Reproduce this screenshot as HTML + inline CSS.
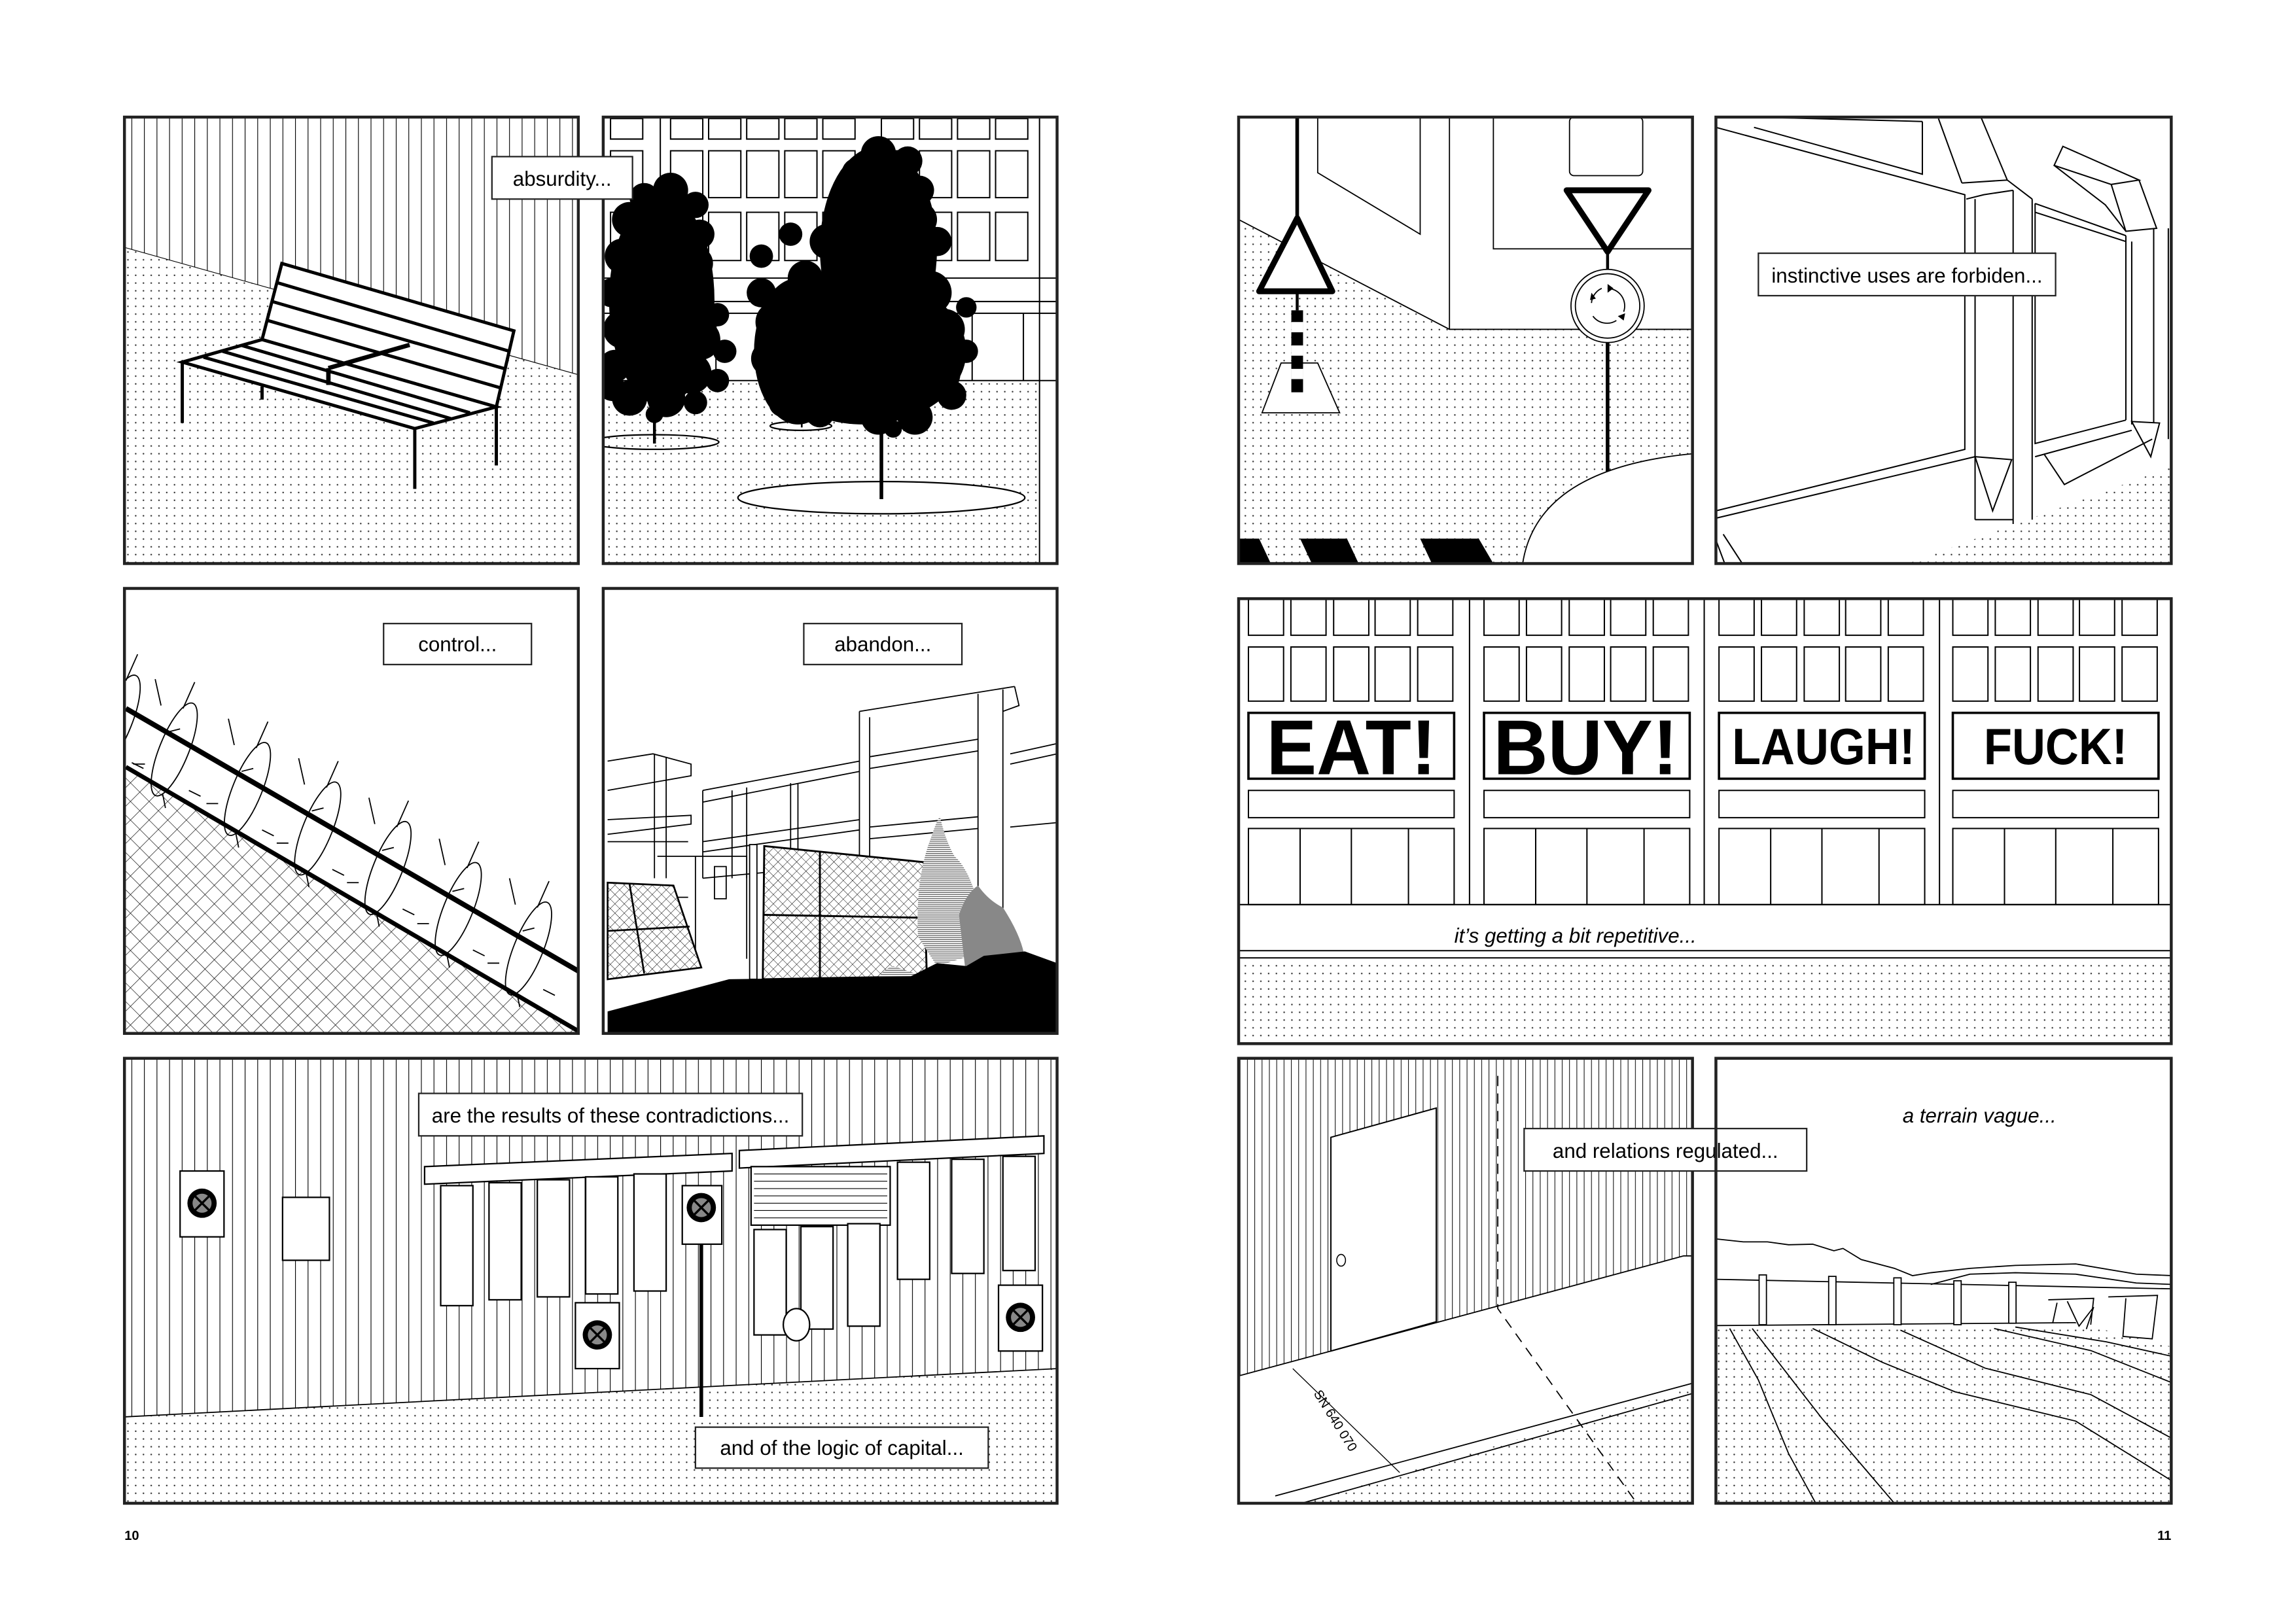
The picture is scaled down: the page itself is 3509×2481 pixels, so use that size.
<!DOCTYPE html>
<html><head><meta charset="utf-8"><style>
html,body{margin:0;padding:0;background:#fff;}
svg{display:block;}
text{font-family:"Liberation Sans",sans-serif;}
</style></head><body>
<svg width="3509" height="2481" viewBox="0 0 1568.2 1108.8" preserveAspectRatio="none" xmlns="http://www.w3.org/2000/svg">
<defs>
<pattern id="dots" width="5.3" height="5.3" patternUnits="userSpaceOnUse"><circle cx="2.6" cy="2.6" r="0.55" fill="#333"/></pattern>
<pattern id="str" width="8.6" height="10" patternUnits="userSpaceOnUse"><line x1="4" y1="0" x2="4" y2="10" stroke="#000" stroke-width="0.5"/></pattern>
<pattern id="str2" width="5" height="10" patternUnits="userSpaceOnUse"><line x1="2" y1="0" x2="2" y2="10" stroke="#000" stroke-width="0.45"/></pattern>
<pattern id="mesh" width="9" height="9" patternUnits="userSpaceOnUse" patternTransform="rotate(45)"><path d="M0 0H9M0 0V9" stroke="#000" stroke-width="0.6" fill="none"/></pattern>
<pattern id="mesh2" width="4.5" height="4.5" patternUnits="userSpaceOnUse" patternTransform="rotate(45)"><path d="M0 0H4.5M0 0V4.5" stroke="#000" stroke-width="0.45" fill="none"/></pattern>
<pattern id="grayl" width="3" height="1.4" patternUnits="userSpaceOnUse"><rect width="3" height="1.4" fill="#fff"/><line x1="0" y1="0.7" x2="3" y2="0.7" stroke="#666" stroke-width="0.6"/></pattern>
<clipPath id="c1"><rect x="85" y="80" width="310" height="305"/></clipPath>
<clipPath id="c2"><rect x="412" y="80" width="310" height="305"/></clipPath>
<clipPath id="c3"><rect x="85" y="402" width="310" height="304"/></clipPath>
<clipPath id="c4"><rect x="412" y="402" width="310" height="304"/></clipPath>
<clipPath id="c5"><rect x="85" y="723" width="637" height="304"/></clipPath>
<clipPath id="c6"><rect x="846" y="80" width="310" height="305"/></clipPath>
<clipPath id="c7"><rect x="1172" y="80" width="311" height="305"/></clipPath>
<clipPath id="c8"><rect x="846" y="409" width="637" height="304"/></clipPath>
<clipPath id="c9"><rect x="846" y="723" width="310" height="304"/></clipPath>
<clipPath id="c10"><rect x="1172" y="723" width="311" height="304"/></clipPath>
</defs>
<rect width="1568.2" height="1108.8" fill="#fff"/>

<!-- P1 bench -->
<g clip-path="url(#c1)">
<rect x="85" y="80" width="310" height="305" fill="url(#str)"/>
<polygon points="85,169 395,256 395,385 85,385" fill="#fff"/>
<polygon points="85,169 395,256 395,385 85,385" fill="url(#dots)" stroke="#000" stroke-width="0.5"/>
<g stroke="#000" stroke-width="2.2" fill="none">
<polygon points="192.5,180 351,226 339,278 179,232" fill="#fff"/>
<polygon points="179,232 339,278 283.3,292.8 124.5,247.4" fill="#fff"/>
<line x1="189" y1="193" x2="348" y2="240"/><line x1="186" y1="206" x2="345" y2="252"/><line x1="183" y1="219" x2="342" y2="265"/>
<line x1="165" y1="236" x2="321" y2="282"/><line x1="152" y1="240" x2="308" y2="286"/><line x1="139" y1="244" x2="296" y2="289"/>
<line x1="124.5" y1="247.4" x2="124.5" y2="289"/><line x1="283.3" y1="292.8" x2="283.3" y2="334"/><line x1="339" y1="278" x2="339" y2="318"/><line x1="179" y1="264" x2="179" y2="273"/>
<line x1="224.3" y1="251.5" x2="279.8" y2="235.6" stroke-width="3"/><line x1="224.3" y1="251.5" x2="224.3" y2="263" stroke-width="3"/>
</g></g>
<rect x="85" y="80" width="310" height="305" fill="none" stroke="#222" stroke-width="2"/>

<!-- P2 trees -->
<g clip-path="url(#c2)">
<g stroke="#000" stroke-width="0.9" fill="none">
<g id="wrow">
<rect x="417" y="0" width="22" height="1"/><rect x="458" y="0" width="22" height="1"/><rect x="484" y="0" width="22" height="1"/><rect x="510" y="0" width="22" height="1"/><rect x="536" y="0" width="22" height="1"/><rect x="562" y="0" width="22" height="1"/><rect x="602" y="0" width="22" height="1"/><rect x="628" y="0" width="22" height="1"/><rect x="654" y="0" width="22" height="1"/><rect x="680" y="0" width="22" height="1"/>
</g>
</g>
<g stroke="#000" stroke-width="0.9" fill="none">
<path d="M417 81h22v14h-22z M458 81h22v14h-22z M484 81h22v14h-22z M510 81h22v14h-22z M536 81h22v14h-22z M562 81h22v14h-22z M602 81h22v14h-22z M628 81h22v14h-22z M654 81h22v14h-22z M680 81h22v14h-22z"/>
<path d="M417 103h22v32h-22z M458 103h22v32h-22z M484 103h22v32h-22z M510 103h22v32h-22z M536 103h22v32h-22z M562 103h22v32h-22z M602 103h22v32h-22z M628 103h22v32h-22z M654 103h22v32h-22z M680 103h22v32h-22z"/>
<path d="M417 145h22v33h-22z M458 145h22v33h-22z M484 145h22v33h-22z M510 145h22v33h-22z M536 145h22v33h-22z M562 145h22v33h-22z M602 145h22v33h-22z M628 145h22v33h-22z M654 145h22v33h-22z M680 145h22v33h-22z"/>
<line x1="412" y1="190" x2="722" y2="190"/><line x1="412" y1="206" x2="722" y2="206"/><line x1="412" y1="214" x2="722" y2="214"/>
<line x1="489" y1="214" x2="489" y2="260"/><line x1="520" y1="214" x2="520" y2="260"/><line x1="664" y1="214" x2="664" y2="260"/><line x1="699" y1="214" x2="699" y2="260"/>
<line x1="710" y1="80" x2="710" y2="385"/><line x1="451" y1="80" x2="451" y2="190"/>
<line x1="412" y1="260" x2="722" y2="260"/>
</g>
<rect x="412" y="260" width="298" height="125" fill="url(#dots)"/>
<g fill="#000">
<ellipse cx="452" cy="205" rx="36" ry="72"/>
<ellipse cx="600" cy="170" rx="40" ry="70"/>
<ellipse cx="590" cy="240" rx="70" ry="50"/>
<ellipse cx="545" cy="240" rx="30" ry="50"/>
<circle cx="440" cy="135" r="10"/><circle cx="458" cy="130" r="12"/><circle cx="475" cy="140" r="9"/><circle cx="430" cy="150" r="12"/><circle cx="455" cy="150" r="15"/><circle cx="478" cy="160" r="10"/><circle cx="425" cy="175" r="12"/><circle cx="450" cy="175" r="16"/><circle cx="475" cy="180" r="12"/><circle cx="418" cy="200" r="10"/><circle cx="445" cy="200" r="16"/><circle cx="472" cy="205" r="14"/><circle cx="490" cy="215" r="8"/><circle cx="425" cy="225" r="13"/><circle cx="450" cy="225" r="16"/><circle cx="478" cy="232" r="14"/><circle cx="495" cy="240" r="8"/><circle cx="420" cy="250" r="11"/><circle cx="445" cy="250" r="15"/><circle cx="472" cy="255" r="14"/><circle cx="490" cy="260" r="8"/><circle cx="430" cy="272" r="12"/><circle cx="455" cy="272" r="13"/><circle cx="475" cy="275" r="8"/><circle cx="418" cy="265" r="9"/><circle cx="447" cy="283" r="6"/>
<circle cx="600" cy="105" r="12"/><circle cx="620" cy="110" r="10"/><circle cx="585" cy="118" r="10"/><circle cx="605" cy="125" r="15"/><circle cx="628" cy="130" r="10"/><circle cx="580" cy="140" r="12"/><circle cx="600" cy="150" r="18"/><circle cx="628" cy="150" r="12"/><circle cx="565" cy="165" r="12"/><circle cx="590" cy="175" r="18"/><circle cx="620" cy="175" r="18"/><circle cx="640" cy="165" r="10"/><circle cx="550" cy="190" r="12"/><circle cx="575" cy="200" r="18"/><circle cx="605" cy="200" r="20"/><circle cx="635" cy="200" r="15"/><circle cx="520" cy="200" r="10"/><circle cx="530" cy="220" r="14"/><circle cx="555" cy="225" r="16"/><circle cx="585" cy="230" r="20"/><circle cx="615" cy="230" r="20"/><circle cx="645" cy="225" r="14"/><circle cx="660" cy="240" r="8"/><circle cx="525" cy="245" r="12"/><circle cx="550" cy="255" r="14"/><circle cx="580" cy="260" r="18"/><circle cx="612" cy="262" r="20"/><circle cx="640" cy="255" r="16"/><circle cx="535" cy="275" r="10"/><circle cx="560" cy="282" r="10"/><circle cx="600" cy="285" r="12"/><circle cx="625" cy="285" r="12"/><circle cx="650" cy="270" r="10"/><circle cx="610" cy="293" r="6"/><circle cx="520" cy="175" r="8"/><circle cx="540" cy="160" r="8"/><circle cx="660" cy="210" r="7"/>
</g>
<g fill="none" stroke="#000" stroke-width="1">
<ellipse cx="447" cy="302" rx="44" ry="5"/><ellipse cx="547" cy="291" rx="21" ry="3"/><ellipse cx="602" cy="340" rx="98" ry="11" fill="#fff"/>
</g>
<line x1="447" y1="280" x2="447" y2="303" stroke="#000" stroke-width="2"/><line x1="547.6" y1="270" x2="547.6" y2="292" stroke="#000" stroke-width="1.2"/><line x1="602" y1="290" x2="602" y2="341" stroke="#000" stroke-width="2.5"/>
</g>
<rect x="412" y="80" width="310" height="305" fill="none" stroke="#222" stroke-width="2"/>

<rect x="336" y="107" width="96" height="29" fill="#fff" stroke="#222" stroke-width="1"/>
<text x="384" y="127" font-size="14" text-anchor="middle">absurdity...</text>

<!-- P3 control -->
<g clip-path="url(#c3)">
<polygon points="86,524 396,705 86,705" fill="url(#mesh)"/>
<g fill="none" stroke="#000" stroke-width="0.8">
<g id="coil"><ellipse cx="0" cy="0" rx="10" ry="34" transform="rotate(22)"/><path d="M-9 -30 l-4 -18 M6 -28 l8 -18 M-4 -12 l8 -2 M-20 10 l-8 0 M10 28 l8 4 M-8 30 l2 10"/></g>
<use href="#coil" transform="translate(119,512)"/><use href="#coil" transform="translate(169,539)"/><use href="#coil" transform="translate(217,566)"/><use href="#coil" transform="translate(265,593)"/><use href="#coil" transform="translate(313,621)"/><use href="#coil" transform="translate(361,648)"/><use href="#coil" transform="translate(80,493)"/>
</g>
<line x1="86" y1="484" x2="396" y2="664" stroke="#000" stroke-width="3.5"/>
<line x1="86" y1="524" x2="396" y2="705" stroke="#000" stroke-width="3"/>
</g>
<rect x="85" y="402" width="310" height="304" fill="none" stroke="#222" stroke-width="2"/>
<rect x="262" y="426" width="101" height="28" fill="#fff" stroke="#222"/>
<text x="312.5" y="445" font-size="14" text-anchor="middle">control...</text>

<!-- P4 abandon -->
<g clip-path="url(#c4)">
<g fill="none" stroke="#000" stroke-width="0.8">
<path d="M587 486 L693 469 M587 486 V651 M594 490 V651 M668 474 V651 M685 471 V651 M693 469 L696 482 L685 486"/>
<path d="M594 517 L668 505 M594 525 L668 513 M594 565 L668 558 M594 573 L668 566"/>
<path d="M690 515 L722 508 M690 522 L722 515 M690 565 L722 562"/>
<path d="M415 520 L446 515 L472 522 L472 530 L415 540 M447 515 V600 M455 517 V600 M415 560 L472 557 L472 563 L415 570 M415 575 L470 575 M415 613 L470 613"/>
<path d="M480 540 L587 520 M480 548 L587 527 M480 540 V600 M500 540 V600 M510 538 V600 M540 535 V600 M545 535 V600 M480 575 L587 560 M480 582 L587 567 M480 600 L587 590"/>
<path d="M449 585 H510 V655 M475 585 V655 M488 592 H496 V614 H488 Z"/>
</g>
<polygon points="415,603 460,605 479,661 415,669" fill="#fff"/>
<polygon points="415,603 460,605 479,661 415,669" fill="url(#mesh2)" stroke="#000" stroke-width="1.2"/>
<path d="M430 604 L440 665 M415 636 L471 633" stroke="#000" stroke-width="1.2"/>
<rect x="512" y="577" width="5" height="92" fill="#fff" stroke="#000" stroke-width="0.8"/>
<polygon points="522,578 631,589 633,667 521,669" fill="#fff"/>
<polygon points="522,578 631,589 633,667 521,669" fill="url(#mesh2)" stroke="#000" stroke-width="1.3"/>
<path d="M560 582 V669 M521 625 L632 627" stroke="#000" stroke-width="1.3"/>
<path d="M627 640 Q625 600 636 572 Q640 560 642 558 Q646 575 652 585 Q660 592 666 610 L672 650 L640 660 Z" fill="url(#grayl)"/>
<path d="M655 625 Q660 610 668 605 Q675 615 685 620 Q698 640 700 655 L690 665 L660 668 Z" fill="#888"/>
<path d="M596 690 Q595 665 610 660 L625 665 L630 685 Z" fill="url(#grayl)"/>
<polygon points="415,691 498,669 622,667 640,658 660,660 672,653 700,650 722,658 722,706 415,706" fill="#000"/>
</g>
<rect x="412" y="402" width="310" height="304" fill="none" stroke="#222" stroke-width="2"/>
<rect x="549" y="426" width="108" height="28" fill="#fff" stroke="#222"/>
<text x="603" y="445" font-size="14" text-anchor="middle">abandon...</text>

<!-- P5 -->
<g clip-path="url(#c5)">
<rect x="85" y="723" width="637" height="304" fill="url(#str)"/>
<polygon points="85,968 722,935 722,1027 85,1027" fill="#fff"/>
<polygon points="85,968 722,935 722,1027 85,1027" fill="url(#dots)" stroke="#000" stroke-width="0.8"/>
<g stroke="#000" stroke-width="1" fill="#fff">
<polygon points="290,797 500,788 500,800 290,809"/><polygon points="505,786 713,776 713,788 505,798"/>
<rect x="301" y="810" width="22" height="82"/><rect x="334" y="808" width="22" height="80"/><rect x="367" y="806" width="22" height="80"/><rect x="400" y="804" width="22" height="80"/><rect x="433" y="802" width="22" height="80"/>
<rect x="513" y="797" width="95" height="40"/>
<rect x="515" y="840" width="22" height="72"/><rect x="547" y="838" width="22" height="70"/><rect x="579" y="836" width="22" height="70"/><rect x="613" y="794" width="22" height="80"/><rect x="650" y="792" width="22" height="78"/><rect x="685" y="790" width="22" height="78"/>
<rect x="193" y="818" width="32" height="43"/>
<rect x="123" y="800" width="30" height="45"/><rect x="393" y="890" width="30" height="45"/><rect x="682" y="878" width="30" height="45"/>
<rect x="466" y="810" width="27" height="40"/>
<ellipse cx="544" cy="905" rx="9" ry="11"/>
</g>
<g stroke="#000" stroke-width="0.5"><line x1="515" y1="802" x2="606" y2="802"/><line x1="515" y1="807" x2="606" y2="807"/><line x1="515" y1="812" x2="606" y2="812"/><line x1="515" y1="817" x2="606" y2="817"/><line x1="515" y1="822" x2="606" y2="822"/><line x1="515" y1="827" x2="606" y2="827"/><line x1="515" y1="832" x2="606" y2="832"/></g>
<g id="xs"><circle cx="138" cy="822" r="10" fill="#000"/><circle cx="138" cy="822" r="6.5" fill="#888"/><path d="M133 817 L143 827 M143 817 L133 827" stroke="#000" stroke-width="1.5"/></g>
<use href="#xs" x="270" y="90"/><use href="#xs" x="559" y="78"/><use href="#xs" x="341" y="3"/>
<line x1="479" y1="850" x2="479" y2="968" stroke="#000" stroke-width="2.5"/>
</g>
<rect x="85" y="723" width="637" height="304" fill="none" stroke="#222" stroke-width="2"/>
<rect x="286" y="747" width="262" height="29" fill="#fff" stroke="#222"/>
<text x="417" y="767" font-size="14" text-anchor="middle">are the results of these contradictions...</text>
<rect x="475" y="975" width="200" height="28" fill="#fff" stroke="#222"/>
<text x="575" y="994" font-size="14" text-anchor="middle">and of the logic of capital...</text>

<!-- P6 -->
<g clip-path="url(#c6)">
<polygon points="846,150 990,225 1156,225 1156,385 846,385" fill="url(#dots)"/>
<g fill="none" stroke="#000" stroke-width="0.8">
<path d="M846 150 L990 225 H1156"/><path d="M900 80 V118 L970 160 V80"/><path d="M990 80 V225"/><rect x="1020" y="80" width="136" height="90" fill="#fff"/>
<rect x="1072" y="80" width="50" height="40" rx="3" fill="#fff"/>
</g>
<path d="M1040 385 Q1050 320 1156 310 V385 Z" fill="#fff" stroke="#000" stroke-width="0.8"/>
<polygon points="862,282 915,282 900,248 875,248" fill="#fff" stroke="#000" stroke-width="0.8"/>
<line x1="886" y1="80" x2="886" y2="150" stroke="#000" stroke-width="2.5"/>
<polygon points="886,149 910,199 860,199" fill="#fff" stroke="#000" stroke-width="4" stroke-linejoin="round"/>
<line x1="886" y1="199" x2="886" y2="212" stroke="#000" stroke-width="2"/>
<rect x="882" y="212" width="8" height="56" fill="#000"/>
<rect x="882" y="220" width="8" height="7" fill="#fff"/><rect x="882" y="236" width="8" height="7" fill="#fff"/><rect x="882" y="252" width="8" height="7" fill="#fff"/>
<polygon points="1070,130 1126,130 1098,172" fill="#fff" stroke="#000" stroke-width="4" stroke-linejoin="round"/>
<line x1="1098" y1="172" x2="1098" y2="186" stroke="#000" stroke-width="2"/>
<ellipse cx="1098" cy="209" rx="25" ry="25" fill="#fff" stroke="#000" stroke-width="0.8"/>
<ellipse cx="1098" cy="209" rx="22" ry="22" fill="none" stroke="#000" stroke-width="0.8"/>
<path d="M1098 197 A12 12 0 0 1 1109 213 M1104 219 A12 12 0 0 1 1088 216 M1087 207 A12 12 0 0 1 1094 197" fill="none" stroke="#000" stroke-width="0.8"/>
<path d="M1098 194 l4 3 -4 3Z M1110 214 l-1 5 -4 -3Z M1086 205 l1 -5 3 4Z" fill="#000"/>
<line x1="1098" y1="234" x2="1098" y2="322" stroke="#000" stroke-width="2.5"/>
<polygon points="846,368 860,368 868,385 846,385" fill="#000"/><polygon points="888,368 920,368 928,385 896,385" fill="#000"/><polygon points="970,368 1010,368 1020,385 978,385" fill="#000"/>
</g>
<rect x="846" y="80" width="310" height="305" fill="none" stroke="#222" stroke-width="2"/>

<!-- P7 -->
<g clip-path="url(#c7)">
<polygon points="1303,385 1483,319 1483,385" fill="url(#dots)"/>
<g fill="none" stroke="#000" stroke-width="0.9">
<path d="M1172 87 L1342 133 V307 L1172 349 M1172 354 L1349 312"/>
<path d="M1200 80 L1313 83 M1198 87 L1313 119 L1313 83"/>
<path d="M1324 81 L1340 125 M1353 80 L1371 123 M1340 125 L1371 123 L1388 136"/>
<path d="M1343 136 L1355 133 L1375 130 M1349 136 V355 M1375 130 V358 M1388 136 V355 M1349 355 L1375 355"/>
<path d="M1390 139 L1452 161 M1390 145 L1452 165 M1390 139 V303 L1452 287 M1390 312 L1456 294"/>
<path d="M1452 161 V287 M1456 165 V290 M1471 156 V289 M1481 156 V300"/>
<path d="M1409 100 L1461 123 L1442 126 L1403 113 Z M1442 126 L1452 158 L1473 156 L1461 123 M1403 113 L1438 140 L1452 158"/>
<path d="M1349 312 L1374 314 L1361 349 Z M1456 288 L1475 289 L1469 312 Z M1396 310 L1410 331 L1470 300"/>
<path d="M1172 369 L1178 385 M1177 365 L1190 385"/>
</g>
</g>
<rect x="1172" y="80" width="311" height="305" fill="none" stroke="#222" stroke-width="2"/>
<rect x="1201" y="173" width="203" height="29" fill="#fff" stroke="#222"/>
<text x="1302.5" y="193" font-size="14" text-anchor="middle">instinctive uses are forbiden...</text>

<!-- P8 -->
<g clip-path="url(#c8)">
<g fill="#fff" stroke="#000" stroke-width="0.9">
<line x1="1003.7" y1="409" x2="1003.7" y2="618"/><line x1="1164" y1="409" x2="1164" y2="618"/><line x1="1324.7" y1="409" x2="1324.7" y2="618"/>
<g id="col">
<rect x="852.7" y="407" width="24" height="27"/><rect x="881.7" y="407" width="24" height="27"/><rect x="910.9" y="407" width="24" height="27"/><rect x="939.2" y="407" width="24" height="27"/><rect x="968.3" y="407" width="24" height="27"/>
<rect x="852.7" y="442" width="24" height="37"/><rect x="881.7" y="442" width="24" height="37"/><rect x="910.9" y="442" width="24" height="37"/><rect x="939.2" y="442" width="24" height="37"/><rect x="968.3" y="442" width="24" height="37"/>
<rect x="852.7" y="540" width="140.5" height="18.6"/>
<rect x="852.7" y="566" width="140.5" height="52"/><line x1="888" y1="566" x2="888" y2="618"/><line x1="923" y1="566" x2="923" y2="618"/><line x1="962" y1="566" x2="962" y2="618"/>
</g>
<use href="#col" x="160.9"/><use href="#col" x="321.4"/><use href="#col" x="481.1"/>
<line x1="846" y1="618" x2="1483" y2="618"/>
<line x1="846" y1="649.5" x2="1483" y2="649.5"/><line x1="846" y1="654.4" x2="1483" y2="654.4"/>
</g>
<rect x="846" y="656" width="637" height="57" fill="url(#dots)"/>
<g stroke="#000" stroke-width="1.6" fill="#fff">
<rect x="852.7" y="487" width="140.5" height="45"/><rect x="1013.6" y="487" width="140.5" height="45"/><rect x="1174.1" y="487" width="140.5" height="45"/><rect x="1333.8" y="487" width="140.5" height="45"/>
</g>
<text x="923" y="529" font-size="53" font-weight="bold" text-anchor="middle" textLength="116" lengthAdjust="spacingAndGlyphs">EAT!</text>
<text x="1083" y="529" font-size="53" font-weight="bold" text-anchor="middle" textLength="126" lengthAdjust="spacingAndGlyphs">BUY!</text>
<text x="1245.5" y="522" font-size="35" font-weight="bold" text-anchor="middle" textLength="125" lengthAdjust="spacingAndGlyphs">LAUGH!</text>
<text x="1404" y="522" font-size="35" font-weight="bold" text-anchor="middle" textLength="98" lengthAdjust="spacingAndGlyphs">FUCK!</text>
<text x="1076" y="644" font-size="14" font-style="italic" text-anchor="middle">it’s getting a bit repetitive...</text>
</g>
<rect x="846" y="409" width="637" height="304" fill="none" stroke="#222" stroke-width="2"/>

<!-- P9 -->
<g clip-path="url(#c9)">
<rect x="846" y="723" width="310" height="304" fill="url(#str2)"/>
<polygon points="846,940 1150,858 1156,858 1156,1027 846,1027" fill="#fff" stroke="#000" stroke-width="0.8"/>
<polygon points="889,1027 1156,948 1156,1027" fill="url(#dots)"/>
<line x1="871" y1="1022" x2="1156" y2="945" stroke="#000" stroke-width="0.8"/>
<line x1="889" y1="1027" x2="1156" y2="952" stroke="#000" stroke-width="0.8"/>
<polygon points="909,777 981,757 981,903 909,923" fill="#fff" stroke="#000" stroke-width="0.9"/>
<ellipse cx="916" cy="861" rx="3" ry="4" fill="#fff" stroke="#000" stroke-width="0.7"/>
<path d="M1023 735 V894 L1118 1027" stroke="#000" stroke-width="0.8" stroke-dasharray="7,5" fill="none"/>
<line x1="883" y1="935" x2="956" y2="1006" stroke="#000" stroke-width="0.6"/>
<text x="0" y="0" font-size="9" transform="translate(897,952) rotate(58)">SN 640 070</text>
</g>
<rect x="846" y="723" width="310" height="304" fill="none" stroke="#222" stroke-width="2"/>
<rect x="1041" y="771" width="193" height="29" fill="#fff" stroke="#222"/>
<text x="1137.5" y="791" font-size="14" text-anchor="middle">and relations regulated...</text>

<!-- P10 -->
<g clip-path="url(#c10)">
<polygon points="1172,905.6 1417.8,903.6 1483,920 1483,1027 1172,1027" fill="url(#dots)"/>
<g fill="none" stroke="#000" stroke-width="0.8">
<path d="M1172 846.4 L1190.7 848.4 L1207.2 848.4 L1221.6 850.4 L1238.1 850 L1252.6 854.5 L1258.8 852.9 L1271.2 860.5 L1293.9 866.5 L1306.3 871.5 L1318.7 869.5 L1345.5 866.5 L1376.5 864.5 L1417.8 863.5 L1459.1 870.5 L1483.9 871.5"/>
<path d="M1318.7 877.5 L1345.5 870.5 L1376.5 869.5 L1417.8 870.5 L1459.1 876.5 L1483.9 877.5"/>
<path d="M1172 874 L1483 880.5"/>
<path d="M1172 905.6 L1417.8 903.6"/>
<rect x="1201.5" y="871" width="5" height="34" fill="#fff"/><rect x="1249" y="872" width="5" height="33" fill="#fff"/><rect x="1293.5" y="873" width="5" height="32" fill="#fff"/><rect x="1334.5" y="875" width="5" height="30" fill="#fff"/><rect x="1372" y="876" width="5" height="28" fill="#fff"/>
<path d="M1399 888 L1430 887 L1428 905 M1405 890 L1402 904 M1412 889 L1420 906 L1430 893 L1425 908 M1440 886 L1473.6 885 L1470 914.7 L1450 913 L1452 887"/>
<path d="M1181.4 907.6 L1201 942.8 L1221.6 993 L1240.2 1027"/>
<path d="M1196.8 907.6 L1244.3 968.9 L1293.9 1027"/>
<path d="M1238.1 907.6 L1285.6 930.7 L1335.2 950.8 L1417.8 970.9 L1483.9 1012"/>
<path d="M1298 908.7 L1355.9 934.7 L1428.1 952.8 L1483.9 982.9"/>
<path d="M1362 907.6 L1428.1 922.7 L1483.9 944.8"/>
<path d="M1376.5 906.6 L1438.5 916.7 L1483.9 926.7"/>
</g>
</g>
<rect x="1172" y="723" width="311" height="304" fill="none" stroke="#222" stroke-width="2"/>
<text x="1352" y="767" font-size="14" font-style="italic" text-anchor="middle">a terrain vague...</text>

<text x="85" y="1052" font-size="9" font-weight="bold">10</text>
<text x="1483" y="1052" font-size="9" font-weight="bold" text-anchor="end">11</text>
</svg>
</body></html>
